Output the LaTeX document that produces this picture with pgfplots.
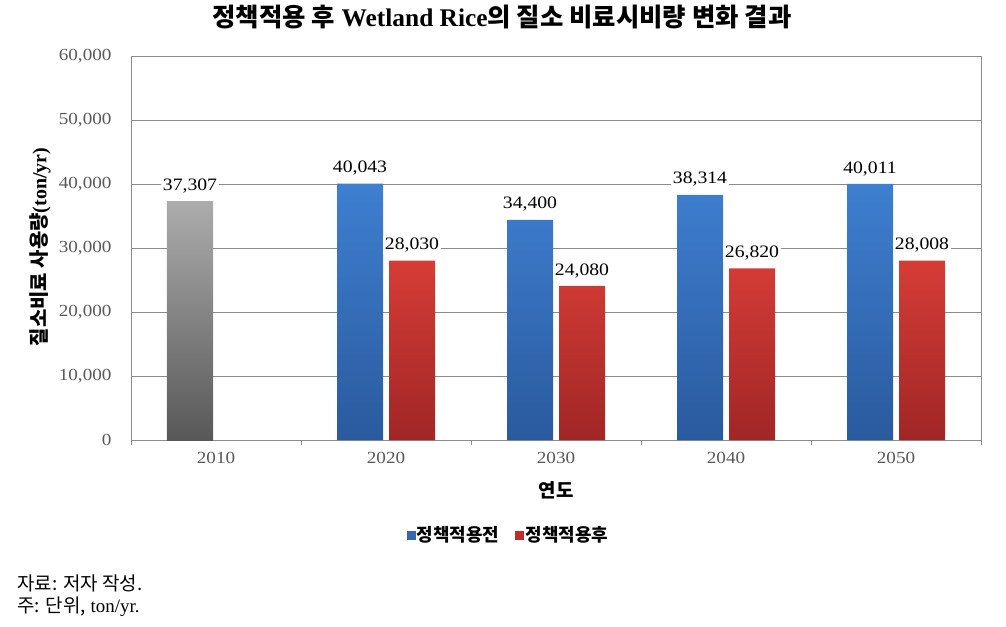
\documentclass[border=0pt]{standalone}
\usepackage{fontspec}
\setmainfont{Liberation Serif}
\newfontfamily\kr{Noto Sans CJK KR}
\newfontfamily\numfont[FakeStretch=1.13]{Liberation Serif}
\usepackage{pgfplots}
\pgfplotsset{compat=1.18}

\definecolor{grayTop}{RGB}{172,172,172}
\definecolor{grayBot}{RGB}{88,88,88}
\definecolor{blueTop}{RGB}{62,127,208}
\definecolor{blueBot}{RGB}{42,90,158}
\definecolor{redTop}{RGB}{214,60,54}
\definecolor{redBot}{RGB}{160,38,38}
\definecolor{blueLeg}{RGB}{52,104,178}
\definecolor{redLeg}{RGB}{190,45,42}
\definecolor{tickgray}{RGB}{89,89,89}
\definecolor{gridgray}{RGB}{140,140,140}

\begin{document}
\begin{tikzpicture}
\path[use as bounding box] (-131bp,-187bp) rectangle (875bp,440bp);
\begin{axis}[
    at={(0,0)}, anchor=south west,
    scale only axis, width=850bp, height=384bp,
    xmin=-0.5, xmax=4.5, ymin=0, ymax=60000,
    xtick={0,...,4}, xticklabels={2010,2020,2030,2040,2050},
    minor xtick={-0.5,0.5,1.5,2.5,3.5,4.5},
    ytick={0,10000,...,60000},
    xtick pos=bottom, ytick pos=left,
    major tick length=0pt, minor tick length=5bp, tick align=outside,
    minor tick style={gridgray},
    ymajorgrids, grid style={gridgray, line width=0.7pt},
    axis line style={gridgray, line width=0.9pt},
    scaled y ticks=false,
    /pgf/number format/1000 sep={,},
    /pgf/number format/fixed,
    /pgf/number format/assume math mode=true,
    ticklabel style={font=\numfont\fontsize{17}{20}\selectfont, text=tickgray},
    yticklabel style={xshift=-16bp},
    xticklabel style={yshift=-9bp},
    ybar, bar width=46bp,
    nodes near coords,
    nodes near coords style={font=\numfont\fontsize{17.5}{20}\selectfont, text=black,
        fill=white, inner sep=2bp, yshift=6bp},
    legend style={at={(0.444,-0.247)}, anchor=center, legend columns=2, draw=none,
        font=\kr\bfseries\fontsize{18}{21}\selectfont,
        /tikz/every even column/.append style={column sep=14bp}},
]
\addlegendimage{legend image code/.code={\fill[blueLeg] (0bp,-4bp) rectangle (8bp,4bp);}}
\addlegendentry{정책적용전}
\addlegendimage{legend image code/.code={\fill[redLeg] (0bp,-4bp) rectangle (8bp,4bp);}}
\addlegendentry{정책적용후}
\addplot[forget plot, draw=none, top color=grayTop, bottom color=grayBot, bar shift=-26bp]
    coordinates {(0,37307)};
\addplot[forget plot, draw=none, top color=blueTop, bottom color=blueBot, bar shift=-26bp]
    coordinates {(1,40043) (2,34400) (3,38314) (4,40011)};
\addplot[forget plot, draw=none, top color=redTop, bottom color=redBot, bar shift=26bp]
    coordinates {(1,28030) (2,24080) (3,26820) (4,28008)};
\end{axis}
\node[font=\bfseries\fontsize{25.5}{29}\selectfont] at (371bp,423bp)
    {{\kr 정책적용 후} Wetland Rice{\kr 의 질소 비료시비량 변화 결과}};
\node[rotate=90, font=\bfseries\fontsize{20}{24}\selectfont] at (-91bp,193bp)
    {{\kr 질소비료 사용량}(ton/yr)};
\node[font=\kr\bfseries\fontsize{19}{22}\selectfont] at (425bp,-50bp) {연도};
\node[anchor=west, font=\fontsize{19}{22}\selectfont] at (-117bp,-143bp) {{\kr 자료: 저자 작성.}};
\node[anchor=west, font=\fontsize{19}{22}\selectfont] at (-117bp,-167bp) {{\kr 주: 단위,} ton/yr.};
\end{tikzpicture}
\end{document}
